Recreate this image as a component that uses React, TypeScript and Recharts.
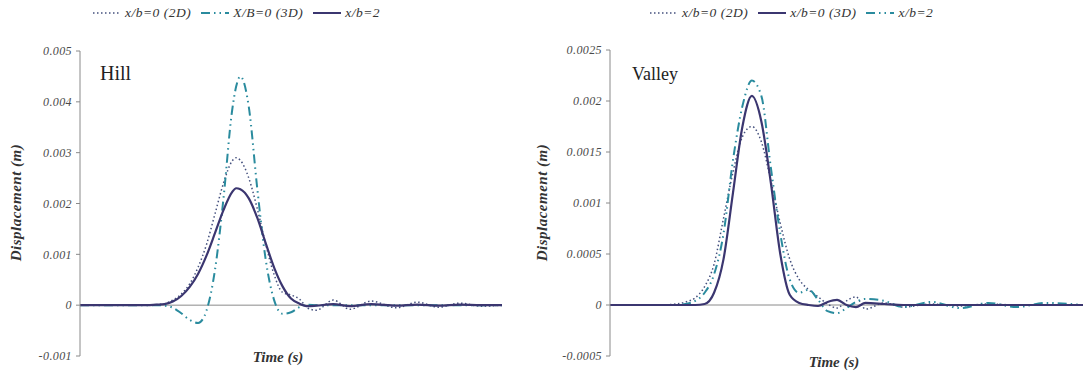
import React from "react"
import { LineChart, Line, XAxis, YAxis, ReferenceLine } from "recharts"

// Hill panel
const hillTime = [0.5, 0.6, 0.66, 0.68, 0.7, 0.72, 0.74, 0.76, 0.78, 0.8, 0.82, 0.84, 0.86, 0.87, 0.88, 0.9, 0.92, 0.94, 0.96, 0.98, 1.0, 1.02, 1.04, 1.06, 1.1, 1.14, 1.19, 1.25, 1.3, 1.35, 1.4, 1.45, 1.5]
const hill2D = [0, 0, 0, 0.00001, 0.00003, 0.0001, 0.00022, 0.00042, 0.00075, 0.0012, 0.0018, 0.0024, 0.00283, 0.0029, 0.00285, 0.0025, 0.0019, 0.0012, 0.0006, 0.00025, 0.0002, 0.00012, -0.00006, -0.0001, 0.0001, -0.00008, 0.00008, -0.00005, 0.00006, -0.00004, 0.00004, -0.00002, 0]
const hill3D = [0, 0, 0, 0, -0.00001, -0.00005, -0.00016, -0.00029, -0.00035, -0.0001, 0.0007, 0.0021, 0.0038, 0.0043, 0.0045, 0.0039, 0.0023, 0.0009, 0.0001, -0.00017, -0.00014, -0.00004, 0.00001, 0, 0, 0, 0, 0, 0, 0, 0, 0, 0]
const hillB2 = [0, 0, 0, 0.00001, 0.00002, 0.00007, 0.00018, 0.00036, 0.00062, 0.00098, 0.00142, 0.00187, 0.00222, 0.0023, 0.00228, 0.0021, 0.00172, 0.00122, 0.00074, 0.00037, 0.00013, 0.00003, -0.00002, -0.00001, 0.00002, -0.00002, 0.00002, -0.00001, 0.00001, -0.00001, 0.00001, 0, 0]
const hillYTicks = [-0.001, 0, 0.001, 0.002, 0.003, 0.004, 0.005]

// Valley panel
const valleyTime = [0.5, 0.6, 0.64, 0.66, 0.68, 0.7, 0.72, 0.74, 0.76, 0.78, 0.8, 0.82, 0.84, 0.86, 0.88, 0.9, 0.92, 0.94, 0.96, 0.98, 1.0, 1.02, 1.04, 1.08, 1.12, 1.18, 1.24, 1.3, 1.36, 1.42, 1.5]
const valley2D = [0, 0, 0.00001, 0.00003, 0.00007, 0.00018, 0.0004, 0.00085, 0.0013, 0.00165, 0.00175, 0.0016, 0.00122, 0.0008, 0.00045, 0.00025, 0.00015, 0.00008, 0.00001, -0.00003, 0.00004, 0.00008, -0.00004, 0.00002, -0.00002, 0.00001, -0.00001, 0.00001, 0, 0, 0]
const valley3D = [0, 0, 0, 0, 0, 0.00001, 0.00012, 0.00045, 0.0011, 0.00175, 0.00205, 0.0018, 0.0012, 0.0005, 0.0001, 0.00002, 0, -0.00001, 0.00003, 0.00005, 0, -0.00002, 0.00002, 0.00001, 0, 0, 0, 0, 0, 0, 0]
const valleyB2 = [0, 0, 0, 0.00001, 0.00004, 0.00012, 0.0003, 0.0007, 0.00142, 0.00195, 0.0022, 0.00205, 0.00135, 0.0007, 0.00025, 0.00012, 0.00015, 0.00005, -0.00006, -0.00008, -0.00003, 0.00003, 0.00006, 0.00004, -0.00002, 0.00003, -0.00003, 0.00002, -0.00002, 0.00002, 0]
const valleyYTicks = [-0.0005, 0, 0.0005, 0.001, 0.0015, 0.002, 0.0025]

const xTicks = [0.5, 1, 1.5]

const hillRows = hillTime.map((t, i) => ({ t, a: hill2D[i], b: hill3D[i], c: hillB2[i] }))
const valleyRows = valleyTime.map((t, i) => ({ t, a: valley2D[i], b: valley3D[i], c: valleyB2[i] }))

const SERIF = "'Liberation Serif', 'DejaVu Serif', serif"
const AXIS = "#8a8a8a"
const DOTTED = "#44507e"
const TEAL = "#2a8b9e"
const SOLID = "#3b3670"
const DOT_DASH = "1.5 2.5"
const DASH_DOT = "9 4 1.5 4 1.5 4"

const tickStyle = { fill: "#4a4a4a", fontSize: 12, fontStyle: "italic", fontFamily: SERIF, letterSpacing: 0.4 }

function xTick(zeroY: number) {
  return (p: any) => (
    <g>
      <line x1={p.x} x2={p.x} y1={zeroY - 3} y2={zeroY + 3} stroke={AXIS} />
      <text x={p.x} y={zeroY + 26} textAnchor="middle" {...tickStyle}>
        {p.payload.value}
      </text>
    </g>
  )
}

function LegendSwatch({ kind }: { kind: string }) {
  const color = kind === "dot" ? DOTTED : kind === "dash" ? TEAL : SOLID
  const dash = kind === "dot" ? DOT_DASH : kind === "dash" ? DASH_DOT : undefined
  return (
    <svg width={28} height={10} style={{ marginRight: 4 }}>
      <line x1={0} x2={28} y1={5} y2={5} stroke={color} strokeWidth={kind === "dot" ? 1.5 : 2} strokeDasharray={dash} />
    </svg>
  )
}

function LegendRow({ items, left }: { items: Array<[string, string]>; left: number }) {
  return (
    <div style={{ position: "absolute", top: 5, left, display: "flex", alignItems: "center", fontFamily: SERIF, fontStyle: "italic", fontSize: 13.5, letterSpacing: 0.5, color: "#333" }}>
      {items.map(([kind, label]) => (
        <div key={label} style={{ display: "flex", alignItems: "center", marginRight: 10 }}>
          <LegendSwatch kind={kind} />
          <span>{label}</span>
        </div>
      ))}
    </div>
  )
}

const yTitle: React.CSSProperties = {
  position: "absolute",
  width: 160,
  textAlign: "center",
  fontFamily: SERIF,
  fontStyle: "italic",
  fontWeight: "bold",
  fontSize: 15,
  letterSpacing: 0.5,
  color: "#333",
  transform: "rotate(-90deg)",
  transformOrigin: "center",
  whiteSpace: "nowrap",
}

const xTitle: React.CSSProperties = {
  position: "absolute",
  width: 100,
  textAlign: "center",
  fontFamily: SERIF,
  fontStyle: "italic",
  fontWeight: "bold",
  fontSize: 15,
  color: "#333",
}

export default function App() {
  return (
    <div style={{ position: "absolute", left: 0, top: 0, width: 1092, height: 374, background: "#fff", overflow: "hidden" }}>
      <div style={{ position: "absolute", left: 0, top: 0 }}>
        <LineChart width={546} height={374} data={hillRows} margin={{ top: 51, right: 44, bottom: 18, left: 10 }}>
          <XAxis dataKey="t" type="number" domain={[0.5, 1.5]} ticks={xTicks} axisLine={false} tickLine={false} height={0} tick={xTick(307)} />
          <YAxis domain={[-0.001, 0.005]} ticks={hillYTicks} width={70} stroke={AXIS} tickSize={4} tickMargin={4} tick={tickStyle} />
          <ReferenceLine y={0} stroke={AXIS} />
          <Line type="monotone" dataKey="a" stroke={DOTTED} strokeWidth={1.5} strokeDasharray={DOT_DASH} dot={false} isAnimationActive={false} />
          <Line type="monotone" dataKey="b" stroke={TEAL} strokeWidth={2} strokeDasharray={DASH_DOT} dot={false} isAnimationActive={false} />
          <Line type="monotone" dataKey="c" stroke={SOLID} strokeWidth={2.2} dot={false} isAnimationActive={false} />
        </LineChart>
      </div>
      <div style={{ position: "absolute", left: 546, top: 0 }}>
        <LineChart width={546} height={374} data={valleyRows} margin={{ top: 50, right: 9, bottom: 18, left: 0 }}>
          <XAxis dataKey="t" type="number" domain={[0.5, 1.5]} ticks={xTicks} axisLine={false} tickLine={false} height={0} tick={xTick(306)} />
          <YAxis domain={[-0.0005, 0.0025]} ticks={valleyYTicks} width={64} stroke={AXIS} tickSize={4} tickMargin={4} tick={tickStyle} />
          <ReferenceLine y={0} stroke={AXIS} />
          <Line type="monotone" dataKey="a" stroke={DOTTED} strokeWidth={1.5} strokeDasharray={DOT_DASH} dot={false} isAnimationActive={false} />
          <Line type="monotone" dataKey="c" stroke={TEAL} strokeWidth={2} strokeDasharray={DASH_DOT} dot={false} isAnimationActive={false} />
          <Line type="monotone" dataKey="b" stroke={SOLID} strokeWidth={2.2} dot={false} isAnimationActive={false} />
        </LineChart>
      </div>

      <LegendRow left={93} items={[["dot", "x/b=0 (2D)"], ["dash", "X/B=0 (3D)"], ["solid", "x/b=2"]]} />
      <LegendRow left={650} items={[["dot", "x/b=0 (2D)"], ["solid", "x/b=0 (3D)"], ["dash", "x/b=2"]]} />

      <div style={{ position: "absolute", left: 100, top: 62, fontFamily: SERIF, fontSize: 20, color: "#222" }}>Hill</div>
      <div style={{ position: "absolute", left: 632, top: 64, fontFamily: SERIF, fontSize: 18, color: "#222" }}>Valley</div>

      <div style={{ ...yTitle, left: -64, top: 194 }}>Displacement (m)</div>
      <div style={{ ...yTitle, left: 462, top: 194 }}>Displacement (m)</div>

      <div style={{ ...xTitle, left: 228, top: 349 }}>Time (s)</div>
      <div style={{ ...xTitle, left: 784, top: 354 }}>Time (s)</div>
    </div>
  )
}
